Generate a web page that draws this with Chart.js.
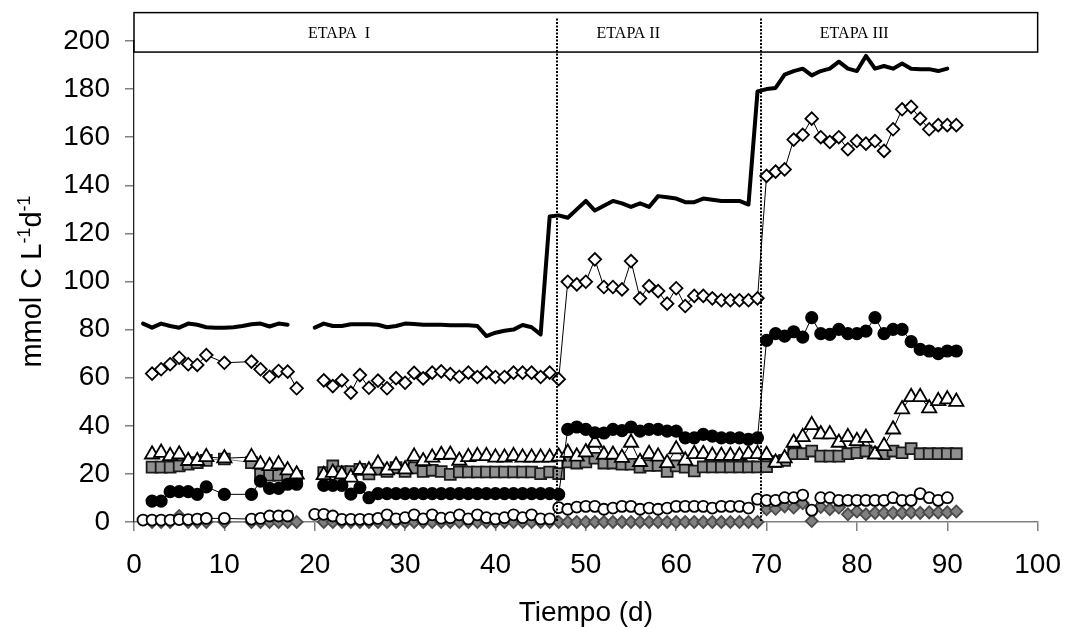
<!DOCTYPE html>
<html>
<head>
<meta charset="utf-8">
<script src="https://cdn.jsdelivr.net/npm/chart.js@4.4.0/dist/chart.umd.min.js"></script>
<style>
  html, body { margin: 0; padding: 0; background: #fff; }
</style>
</head>
<body>
<canvas id="grafico" width="1078" height="628"></canvas>
<script>
// Datos (mmol C L-1 d-1 vs tiempo en días)
// null = hueco entre los dos tramos de la etapa I

// días de las series con marcadores (rombos, círculos negros, triángulos, cuadrados, rombos grises)
const diasA = [
  2, 3, 4, 5, 6, 7, 8, 10, 13, 14, 15, 16, 17, 18, 19,
  21, 22, 23, 24, 25, 26, 27, 28, 29, 30, 31, 32, 33, 34, 35, 36, 37, 38, 39, 40, 41, 42, 43, 44, 45, 46, 47,
  48, 49, 50, 51, 52, 53, 54, 55, 56, 57, 58, 59, 60, 61, 62, 63, 64, 65, 66, 67, 68, 69,
  70, 71, 72, 73, 74, 75, 76, 77, 78, 79, 80, 81, 82, 83, 84, 85, 86, 87, 88, 89, 90, 91
];

// días de la línea gruesa (total)
const diasTotal = [
  1, 2, 3, 4, 5, 6, 7, 8, 9, 10, 11, 12, 13, 14, 15, 16, 17, 18,
  20, 21, 22, 23, 24, 25, 26, 27, 28, 29, 30, 31, 32, 33, 34, 35, 36, 37, 38, 39, 40, 41, 42, 43, 44, 45,
  46, 47, 48, 49, 50, 51, 52, 53, 54, 55, 56, 57, 58, 59, 60, 61, 62, 63, 64, 65, 66, 67, 68,
  69, 70, 71, 72, 73, 74, 75, 76, 77, 78, 79, 80, 81, 82, 83, 84, 85, 86, 87, 88, 89, 90
];

// días de los círculos blancos
const diasCirculos = [
  1, 2, 3, 4, 5, 6, 7, 8, 10, 13, 14, 15, 16, 17, 18,
  20, 21, 22, 23, 24, 25, 26, 27, 28, 29, 30, 31, 32, 33, 34, 35, 36, 37, 38, 39, 40, 41, 42, 43, 44, 45, 46, 47,
  48, 49, 50, 51, 52, 53, 54, 55, 56, 57, 58, 59, 60, 61, 62, 63, 64, 65, 66, 67, 68, 69,
  70, 71, 72, 73, 74, 75, 76, 77, 78, 79, 80, 81, 82, 83, 84, 85, 86, 87, 88, 89, 90
];

const total = [
  82.5, 80.8, 82.5, 81.5, 80.8, 82.5, 82, 81, 80.8, 80.8, 81, 81.5, 82.2, 82.5, 81.3, 82.5, 82, null,
  80.8, 82.5, 81.5, 81.5, 82.2, 82.2, 82.2, 82, 81, 81.5, 82.5, 82.3, 82, 82, 82, 81.8, 81.8, 81.8, 81.5, 77.3, 78.7, 79.5, 80, 81.9, 81, 78,
  127, 127.5, 126.5, 130, 133.5, 129.5, 131.5, 133.5, 132.5, 131, 132.5, 131, 135.5, 135, 134.5, 133, 133, 134.5, 134, 133.5, 133.5, 133.5, 132,
  179, 180, 180.5, 186, 187.5, 188.5, 185.7, 187.5, 188.5, 191.4, 188.5, 187.5, 193.8, 188.5, 189.6, 188.5, 190.6, 188.5, 188.3, 188.3, 187.5, 188.5
];

const rombos = [
  61.7, 63.5, 65.6, 68.3, 65.6, 65.3, 69.4, 66.2, 66.7, 63.5, 60.4, 62.8, 62.5, 55.6, null,
  58.9, 56.5, 58.9, 53.8, 61.1, 55.8, 58.8, 55.6, 59.8, 57.9, 62, 59.7, 62.1, 62.6, 61.5, 60.4, 62.1, 60.3, 62.1, 60.3, 60.3, 62.1, 62.1, 62.1, 60.3, 62.1, 59.4,
  99.9, 98.8, 99.9, 109.2, 97.7, 97.7, 96.7, 108.5, 93, 98.1, 96, 90.8, 97.2, 89.8, 94, 94, 93, 92.2, 92.2, 92.2, 92.2, 93,
  143.9, 145.7, 146.6, 159, 161, 167.7, 160, 158, 160, 155, 158.4, 157.3, 158.4, 154.3, 163.3, 171.6, 172.6, 167.7, 163.3, 165, 165, 165
];

const circulosNegros = [
  8.7, 8.7, 12.6, 12.6, 12.6, 11.5, 14.6, 11.5, 11.5, 17, 14, 14, 15.7, 15.7, null,
  15.2, 15.2, 15.2, 11.6, 14.3, 10.1, 11.8, 11.8, 11.8, 11.8, 11.8, 11.8, 11.8, 11.8, 11.8, 11.8, 11.8, 11.8, 11.8, 11.8, 11.8, 11.8, 11.8, 11.8, 11.8, 11.8, 11.5,
  38.5, 39.5, 38.5, 37.1, 37, 38.5, 38, 39.5, 37.8, 38.5, 38.5, 37.8, 37.8, 35, 35, 36.4, 35.7, 35, 35, 35, 34.4, 35,
  75.5, 78.3, 77.3, 79.1, 76.9, 85, 78.3, 78, 80.1, 78.3, 78.3, 79.4, 85, 78.3, 80.1, 80.1, 75, 71.8, 71.1, 70, 71.1, 71.1
];

const triangulos = [
  28.1, 28.8, 27.4, 28.1, 25.4, 25.4, 27, 26.5, 27, 24, 23.3, 24, 21.5, 19.8, null,
  19.5, 20.5, 19.8, 18.5, 21.7, 21.5, 24.3, 21.5, 23.5, 21.9, 27.2, 25.3, 26.8, 27.9, 28, 25.5, 27, 27.4, 27.4, 26.8, 26.8, 27.4, 26.8, 26.8, 26.8, 26.8, 27.2,
  28.8, 27.2, 29, 33, 28, 28, 26.7, 33, 25, 28.3, 27.2, 24.5, 30.2, 25.6, 28.3, 28.3, 27.5, 27.5, 27.5, 27.5, 28.3, 28.3,
  27.9, 24.7, 26.5, 33, 35.3, 40.3, 36.5, 36.5, 33, 35.3, 33.7, 35, 28.1, 31.6, 38.5, 46.9, 52, 52, 47.3, 50.3, 51, 50
];

const cuadrados = [
  22.8, 22.8, 22.8, 23.3, 24, 24.7, 25.6, 26.2, 24.7, 19.8, 19.5, 19.5, 19, 19, null,
  20.5, 23.3, 20.9, 21, 21.9, 20, 22, 21, 22.6, 21, 22.5, 21, 21.5, 21, 19.8, 20.8, 20.8, 20.8, 20.8, 20.8, 20.8, 20.8, 20.8, 20.8, 20.1, 20.8, 20.1,
  25, 24.5, 25, 26.5, 24.5, 24.5, 24, 24, 22.8, 23.5, 23.5, 21, 23.3, 22.8, 21.2, 22.9, 22.9, 22.9, 22.9, 22.9, 22.9, 22.9,
  23, 25.1, 25.6, 28.4, 28.4, 29.5, 27.4, 27.4, 27.4, 28.4, 28.8, 29.5, 28.8, 28.4, 29.5, 28.8, 30.5, 28.4, 28.4, 28.4, 28.4, 28.4
];

const circulosBlancos = [
  0.8, 0.8, 0.8, 0.8, 1, 1, 1.2, 1.5, 1.5, 1.2, 1.5, 2.5, 2.5, 2.5, null,
  3.2, 3.2, 2.5, 1.1, 1.1, 1.1, 1.1, 1.5, 3, 1.3, 1.8, 3, 1.3, 3, 1.6, 1.8, 3, 1.3, 3, 1.8, 1.3, 1.8, 3, 1.8, 3, 1.3, 1.3, 6,
  5.3, 6.2, 6.5, 6.5, 5.3, 5.8, 6.5, 6.5, 5.3, 5.8, 5.3, 5.8, 6.5, 6.5, 6.5, 6.5, 5.8, 6.5, 6.5, 6.5, 5.8, 9.5,
  9, 9, 10.1, 10.1, 11.2, 4.9, 10.1, 10.1, 9, 9, 9, 9, 9, 9, 10.1, 9, 9, 11.8, 10.1, 9, 10.1
];

const rombosGris = [
  0, 0, 0, 2.5, 0, 0, 0, 0, 0, 0, 0, 0, 0, 0, null,
  0, 0, 0, 0, 0, 0, 0, 0, 0, 0, 0, 0, 0, 0, 0, 0, 0, 0, 0, 0, 0, 0, 0, 0, 0, 0, 0,
  0, 0, 0, 0, 0, 0, 0, 0, 0, 0, 0, 0, 0, 0, 0, 0, 0, 0, 0, 0, 0, 0,
  5.3, 5.5, 6.5, 6, 7.8, 0.4, 6.2, 5.3, 6, 3.2, 4.4, 3.2, 3.8, 3.8, 3.8, 3.8, 4, 3.8, 4, 4, 4, 4.4
];

// etapas: límites (días) y rótulos
const limitesEtapa = [46.8, 69.4];
const etapas = ['ETAPA  I', 'ETAPA II', 'ETAPA III'];
const centroEtapa = [22.7, 54.7, 79.7];

const ticksX = [0, 10, 20, 30, 40, 50, 60, 70, 80, 90, 100];
const ticksY = [0, 20, 40, 60, 80, 100, 120, 140, 160, 180, 200];

const FUENTE = '"Liberation Sans", Arial, sans-serif';

// une días y valores en puntos {x, y}
const puntos = (dias, valores) => dias.map((d, i) => ({ x: d, y: valores[i] }));

// recuadro con las etapas y líneas punteadas
const pluginEtapas = {
    id: 'etapas',
    afterDatasetsDraw(chart) {
        const { ctx, scales: { x, y } } = chart;
        const izq = x.getPixelForValue(0);
        const der = x.getPixelForValue(100);
        const arriba = y.getPixelForValue(211.8);
        const abajo = y.getPixelForValue(195.4);
        const base = y.getPixelForValue(0);

        ctx.save();
        ctx.strokeStyle = '#000';
        ctx.lineWidth = 2;
        ctx.setLineDash([2, 1.5]);
        limitesEtapa.forEach(d => {
            const px = Math.round(x.getPixelForValue(d));
            ctx.beginPath();
            ctx.moveTo(px, arriba + 6);
            ctx.lineTo(px, base);
            ctx.stroke();
        });
        ctx.setLineDash([]);

        ctx.lineWidth = 1.5;
        ctx.strokeRect(izq, arriba, der - izq, abajo - arriba);

        ctx.fillStyle = '#000';
        ctx.font = '16px "Liberation Serif", "Times New Roman", serif';
        ctx.textAlign = 'center';
        ctx.textBaseline = 'middle';
        etapas.forEach((t, i) => {
            ctx.fillText(t, x.getPixelForValue(centroEtapa[i]), (arriba + abajo) / 2 + 1);
        });
        ctx.restore();
    }
};

// título del eje Y con superíndices
const pluginTituloY = {
    id: 'tituloY',
    afterDraw(chart) {
        const { ctx, chartArea } = chart;
        const cy = (chartArea.top + chartArea.bottom) / 2;
        const partes = [
            { t: 'mmol C L', size: 29, sube: 0 },
            { t: '-1', size: 18, sube: 11 },
            { t: 'd', size: 29, sube: 0 },
            { t: '-1', size: 18, sube: 11 }
        ];
        ctx.save();
        ctx.translate(31, cy);
        ctx.rotate(-Math.PI / 2);
        let ancho = 0;
        partes.forEach(p => {
            ctx.font = `${p.size}px ${FUENTE}`;
            p.w = ctx.measureText(p.t).width;
            ancho += p.w;
        });
        let px = -ancho / 2;
        ctx.fillStyle = '#000';
        ctx.textAlign = 'left';
        ctx.textBaseline = 'alphabetic';
        partes.forEach(p => {
            ctx.font = `${p.size}px ${FUENTE}`;
            ctx.fillText(p.t, px, 10 - p.sube);
            px += p.w;
        });
        ctx.restore();
    }
};

const conMarcador = (label, dias, valores, estilo) => Object.assign({
    label: label,
    data: puntos(dias, valores),
    showLine: true,
    spanGaps: false,
    borderWidth: 1,
    borderColor: '#000',
    pointBorderColor: '#000',
    pointBorderWidth: 1.8,
    pointHoverRadius: 0,
    clip: false
}, estilo);

new Chart(document.getElementById('grafico'), {
    type: 'scatter',
    data: {
        datasets: [
            {
                label: 'Total',
                data: puntos(diasTotal, total),
                showLine: true,
                spanGaps: false,
                borderColor: '#000',
                borderWidth: 4,
                borderJoinStyle: 'round',
                borderCapStyle: 'round',
                pointRadius: 0,
                pointHoverRadius: 0,
                order: 0
            },
            conMarcador('Rombos', diasA, rombos, {
                pointStyle: 'rectRot', pointRadius: 6.3, pointBackgroundColor: '#fff', order: 1
            }),
            conMarcador('Círculos negros', diasA, circulosNegros, {
                pointStyle: 'circle', pointRadius: 5.7, pointBackgroundColor: '#000', order: 2
            }),
            conMarcador('Triángulos', diasA, triangulos, {
                pointStyle: 'triangle', pointRadius: 8.2, pointBackgroundColor: '#fff', order: 3
            }),
            conMarcador('Cuadrados', diasA, cuadrados, {
                pointStyle: 'rect', pointRadius: 7.7, pointBackgroundColor: '#909090',
                pointBorderColor: '#1a1a1a', borderColor: '#808080', order: 4
            }),
            conMarcador('Círculos blancos', diasCirculos, circulosBlancos, {
                pointStyle: 'circle', pointRadius: 5.5, pointBackgroundColor: '#fff', order: 5
            }),
            conMarcador('Rombos grises', diasA, rombosGris, {
                pointStyle: 'rectRot', pointRadius: 6, pointBackgroundColor: '#808080',
                pointBorderColor: '#4a4a4a', borderColor: '#808080', order: 6
            })
        ]
    },
    options: {
        responsive: false,
        animation: false,
        events: [],
        layout: { padding: { left: 0, top: 41, right: 28, bottom: 0 } },
        plugins: {
            legend: { display: false },
            tooltip: { enabled: false }
        },
        scales: {
            x: {
                type: 'linear',
                min: 0,
                max: 100,
                afterFit: s => { s.height = 106; },
                afterBuildTicks: s => { s.ticks = ticksX.map(v => ({ value: v })); },
                ticks: { color: '#000', padding: 17, font: { family: FUENTE, size: 28 } },
                grid: { drawOnChartArea: false, tickLength: 9, color: '#808080', lineWidth: 1.5 },
                border: { display: true, color: '#808080', width: 1.5 },
                title: {
                    display: true,
                    text: 'Tiempo (d)',
                    color: '#000',
                    font: { family: FUENTE, size: 28, lineHeight: 1 },
                    padding: { top: 0, bottom: 1 }
                }
            },
            y: {
                type: 'linear',
                min: 0,
                max: 200,
                afterFit: s => { s.width = 134; },
                afterBuildTicks: s => { s.ticks = ticksY.map(v => ({ value: v })); },
                ticks: { color: '#000', padding: 15, font: { family: FUENTE, size: 28 } },
                grid: { drawOnChartArea: false, tickLength: 9, color: '#808080', lineWidth: 1.5 },
                border: { display: true, color: '#222', width: 1.3 }
            }
        }
    },
    plugins: [pluginEtapas, pluginTituloY]
});
</script>
</body>
</html>
